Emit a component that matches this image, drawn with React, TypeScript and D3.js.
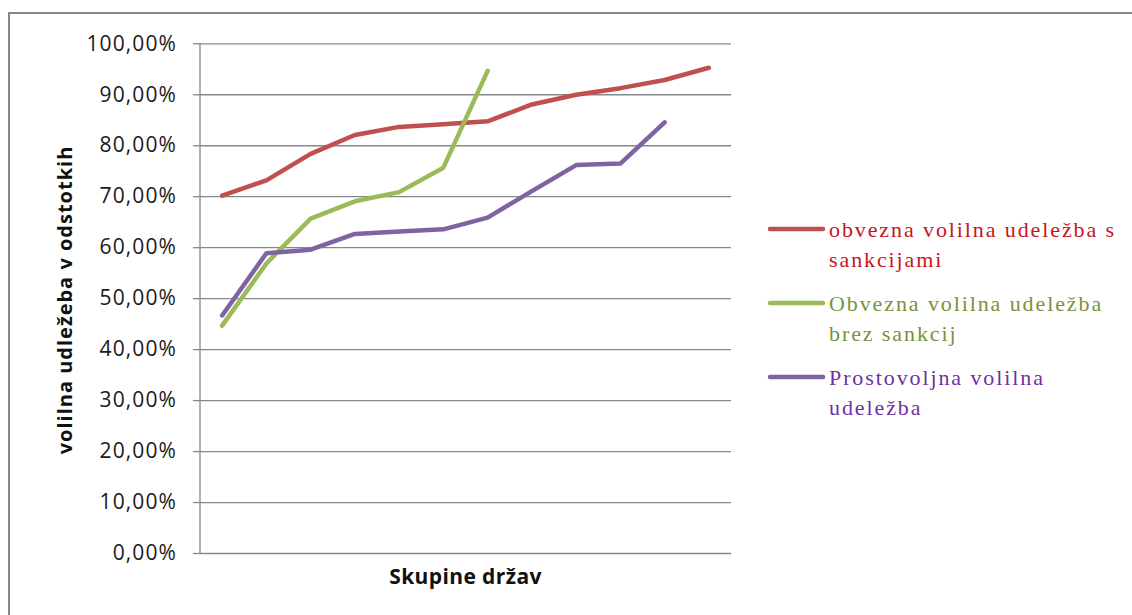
import React, { useEffect, useRef } from 'react';
import * as d3 from "d3";

// groups of countries (no labels shown on the axis)
const groups = ["1", "2", "3", "4", "5", "6", "7", "8", "9", "10", "11", "12"];

const sanctionsValues = [70.1, 73.1, 78.3, 82.0, 83.6, 84.1, 84.7, 88.0, 89.9, 91.2, 92.8, 95.2];
const noSanctionsValues = [44.6, 56.8, 65.6, 69.0, 70.8, 75.6, 94.6];
const voluntaryValues = [46.6, 58.8, 59.5, 62.6, 63.1, 63.5, 65.8, 71.0, 76.1, 76.4, 84.5];

const yTicks = [0, 10, 20, 30, 40, 50, 60, 70, 80, 90, 100];

const seriesNames = [
    ["obvezna volilna udeležba s", "sankcijami"],
    ["Obvezna volilna udeležba", "brez sankcij"],
    ["Prostovoljna volilna", "udeležba"],
];
const lineColors = ["#C0504D", "#9BBB59", "#8064A2"];
const textColors = ["#C8141A", "#77933C", "#7030A0"];

export default function App() {
    const svgRef = useRef(null);

    useEffect(() => {
        const width = 1132;
        const height = 615;
        const plot = { left: 200, right: 731, top: 43.3, bottom: 553 };

        d3.select(svgRef.current).selectAll("*").remove();
        const svg = d3.select(svgRef.current)
            .attr("width", width)
            .attr("height", height);

        svg.append("rect")
            .attr("width", width)
            .attr("height", height)
            .attr("fill", "#FFFFFF");

        // outer frame
        svg.append("rect")
            .attr("x", 9)
            .attr("y", 13)
            .attr("width", 1300)
            .attr("height", 800)
            .attr("fill", "none")
            .attr("stroke", "#878787")
            .attr("stroke-width", 2);

        const x = d3.scalePoint()
            .domain(groups)
            .range([plot.left, plot.right])
            .padding(0.5);

        const y = d3.scaleLinear()
            .domain([0, 100])
            .range([plot.bottom, plot.top]);

        // gridlines + y axis
        const yAxis = svg.append("g")
            .attr("transform", `translate(${plot.left},0)`)
            .call(d3.axisLeft(y)
                .tickValues(yTicks)
                .tickSize(7)
                .tickFormat((d) => `${(d as number).toFixed(2).replace(".", ",")}%`));
        yAxis.select(".domain").remove();
        yAxis.selectAll("line").attr("stroke", "#878787").attr("stroke-width", 1.3);
        yAxis.selectAll(".tick")
            .append("line")
            .attr("x2", plot.right - plot.left)
            .attr("stroke", "#878787")
            .attr("stroke-width", 1.3);
        yAxis.selectAll("text")
            .attr("x", -23)
            .attr("fill", "#1A1A1A")
            .style("font-family", "'Open Sans', sans-serif")
            .style("font-size", "21px")
            .style("letter-spacing", "1.1px");

        svg.append("line")
            .attr("x1", plot.left)
            .attr("x2", plot.left)
            .attr("y1", plot.top)
            .attr("y2", plot.bottom)
            .attr("stroke", "#878787")
            .attr("stroke-width", 1.3);

        // series lines
        const allSeries = [sanctionsValues, noSanctionsValues, voluntaryValues];
        const line = d3.line<number>()
            .x((d, i) => x(groups[i]) || 0)
            .y((d) => y(d));

        allSeries.forEach((values, i) => {
            svg.append("path")
                .datum(values)
                .attr("d", line)
                .attr("fill", "none")
                .attr("stroke", lineColors[i])
                .attr("stroke-width", 4.5)
                .attr("stroke-linejoin", "round")
                .attr("stroke-linecap", "round");
        });

        // axis titles
        svg.append("text")
            .attr("x", (plot.left + plot.right) / 2)
            .attr("y", 584)
            .attr("text-anchor", "middle")
            .attr("fill", "#111")
            .style("font-family", "'Open Sans', sans-serif")
            .style("font-weight", "700")
            .style("font-size", "21px")
            .style("letter-spacing", "0.4px")
            .text("Skupine držav");

        svg.append("text")
            .attr("transform", "translate(72,300) rotate(-90)")
            .attr("text-anchor", "middle")
            .attr("fill", "#111")
            .style("font-family", "'Open Sans', sans-serif")
            .style("font-weight", "700")
            .style("font-size", "20px")
            .style("letter-spacing", "1px")
            .text("volilna udležeba v odstotkih");

        // legend
        const legend = svg.append("g").attr("transform", "translate(770,229)");
        seriesNames.forEach((lines, i) => {
            const g = legend.append("g").attr("transform", `translate(0,${i * 74})`);
            g.append("line")
                .attr("x1", 0)
                .attr("x2", 53)
                .attr("stroke", lineColors[i])
                .attr("stroke-width", 4.5)
                .attr("stroke-linecap", "round");
            lines.forEach((t, j) => {
                g.append("text")
                    .attr("x", 59)
                    .attr("y", 8 + j * 30)
                    .attr("fill", textColors[i])
                    .style("font-family", "'Liberation Serif', serif")
                    .style("font-size", "22px")
                    .style("letter-spacing", "1.9px")
                    .text(t);
            });
        });
    }, []);

    return (
        <svg ref={svgRef} style={{ position: "fixed", left: 0, top: 0, display: "block" }} />
    );
}
